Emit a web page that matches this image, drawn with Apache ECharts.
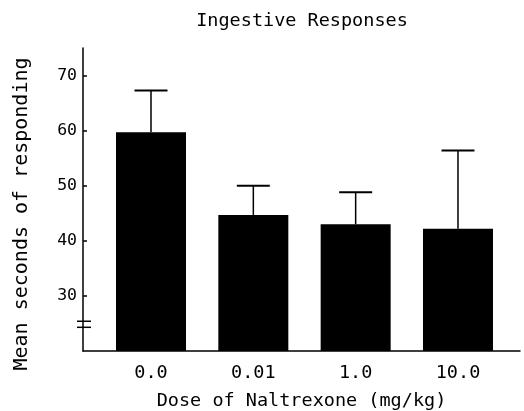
<!DOCTYPE html>
<html><head><meta charset="utf-8">
<script src="https://cdn.jsdelivr.net/npm/echarts@6/dist/echarts.min.js"></script>
<style>html,body{margin:0;padding:0;background:#fff}#c{width:524px;height:411px}</style>
</head><body><div id="c"></div>
<script>
const categories = ['0.0', '0.01', '1.0', '10.0'];
const means = [59.7, 44.7, 43.0, 42.2];
const errors = [7.6, 5.3, 5.8, 14.2];
const yTicks = [30, 40, 50, 60, 70];
const breakValues = [24.3, 25.4];
const titleText = 'Ingestive Responses';
const xName = 'Dose of Naltrexone (mg/kg)';
const yName = 'Mean seconds of responding';

const FONT = '"DejaVu Sans Mono", "Liberation Mono", monospace';
const X_MIN = -0.6645, X_MAX = 3.606;

const chart = echarts.init(document.getElementById('c'), null, {renderer: 'canvas'});
chart.setOption({
  animation: false,
  backgroundColor: '#fff',
  grid: {left: 83, right: 4, top: 48, bottom: 60, containLabel: false, outerBoundsMode: 'none'},
  graphic: [
    {type: 'text', x: 302, y: 21, style: {text: titleText, font: '18.5px ' + FONT, fill: '#000', textAlign: 'center', textVerticalAlign: 'middle'}},
    {type: 'text', x: 22, y: 214, rotation: Math.PI / 2, style: {text: yName, font: '20px ' + FONT, fill: '#000', textAlign: 'center', textVerticalAlign: 'middle'}}
  ],
  xAxis: {
    type: 'value', min: X_MIN, max: X_MAX,
    splitLine: {show: false},
    axisLine: {show: true, onZero: false, lineStyle: {color: '#000', width: 1.5}},
    axisTick: {show: false},
    axisLabel: {
      customValues: categories.map((c, i) => i),
      formatter: v => categories[Math.round(v)],
      color: '#000', fontFamily: FONT, fontSize: 18.5, margin: 13
    },
    name: xName, nameLocation: 'middle', nameGap: 41,
    nameTextStyle: {color: '#000', fontFamily: FONT, fontSize: 18.5}
  },
  yAxis: {
    type: 'value', min: 20, max: 75,
    splitLine: {show: false},
    axisLine: {show: true, onZero: false, lineStyle: {color: '#000', width: 1.5}},
    axisTick: {show: true, inside: true, length: 4, customValues: yTicks, lineStyle: {color: '#000', width: 1.5}},
    axisLabel: {customValues: yTicks, color: '#000', fontFamily: FONT, fontSize: 16.5, margin: 6}
  },
  series: [
    {
      type: 'bar', barWidth: 70,
      itemStyle: {color: '#000'},
      data: means.map((m, i) => [i, m]),
      z: 2
    },
    {
      type: 'custom', z: 3,
      data: means.map((m, i) => [i, m, errors[i]]),
      renderItem: function (params, api) {
        const x = api.value(0), m = api.value(1), e = api.value(2);
        const p0 = api.coord([x, m]), p1 = api.coord([x, m + e]);
        return {type: 'group', children: [
          {type: 'line', shape: {x1: p0[0], y1: p0[1], x2: p1[0], y2: p1[1]}, style: {stroke: '#000', lineWidth: 1.5}},
          {type: 'line', shape: {x1: p1[0] - 16.5, y1: p1[1], x2: p1[0] + 16.5, y2: p1[1]}, style: {stroke: '#000', lineWidth: 2}}
        ]};
      }
    },
    {
      type: 'custom', z: 4, clip: false,
      data: breakValues.map(v => [X_MIN, v]),
      renderItem: function (params, api) {
        const p = api.coord([api.value(0), api.value(1)]);
        return {type: 'line', shape: {x1: p[0] - 6, y1: p[1], x2: p[0] + 8, y2: p[1]}, style: {stroke: '#000', lineWidth: 1.5}};
      }
    }
  ]
});
</script></body></html>
